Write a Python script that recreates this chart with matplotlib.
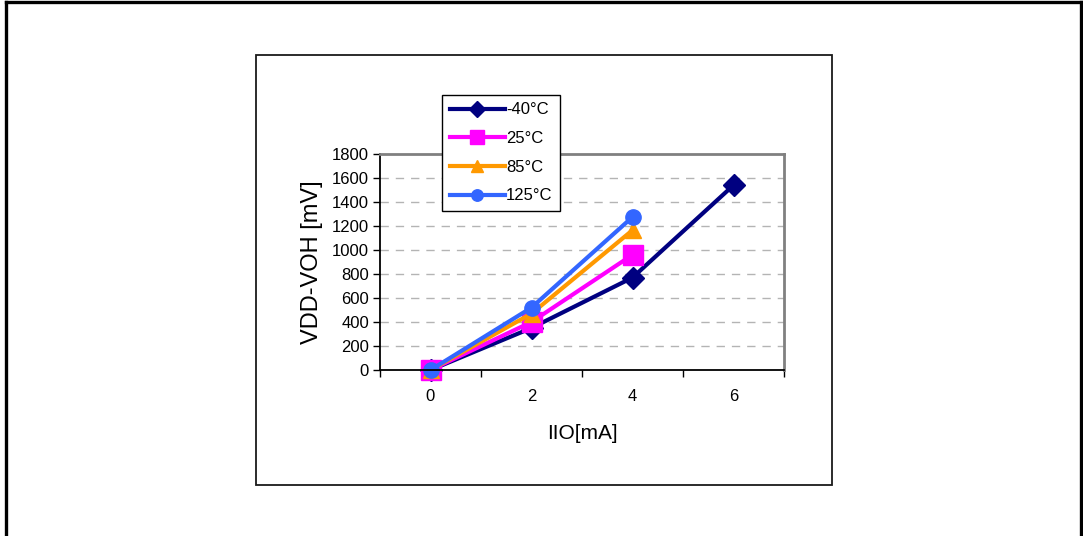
import matplotlib
matplotlib.use("Agg")
import matplotlib.pyplot as plt
from matplotlib.lines import Line2D
from matplotlib.patches import Rectangle

plt.rcParams['font.family'] = ['Liberation Sans', 'DejaVu Sans']

categories = ["0", "2", "4", "6"]
series_labels = ["-40°C", "25°C", "85°C", "125°C"]
vals_m40 = [0, 350, 770, 1540]
vals_25 = [0, 400, 960]
vals_85 = [0, 470, 1165]
vals_125 = [0, 520, 1275]
series_values = [vals_m40, vals_25, vals_85, vals_125]
colors = ["#000080", "#FF00FF", "#FF9900", "#3366FF"]
markers = ["D", "s", "^", "o"]
msizes = [11, 14, 12, 11]
yticks = list(range(0, 1801, 200))

W, H = 1083, 536
fig = plt.figure(figsize=(W / 100, H / 100), dpi=100)

def fx(px):
    return px / W

def fy(py):
    return 1 - py / H

# outer border (bottom runs off the image)
for xs, ys in [((6, 6), (2, 540)), ((6, 1081), (2, 2)), ((1081, 1081), (2, 540))]:
    fig.add_artist(Line2D([fx(x) for x in xs], [fy(y) for y in ys], color="black",
                          lw=2.4, transform=fig.transFigure, solid_capstyle="projecting"))

# inner chart box
fig.add_artist(Rectangle((fx(256), fy(485)), fx(832) - fx(256), fy(55) - fy(485),
                         transform=fig.transFigure, fill=False, edgecolor="#1a1a1a", lw=1.3))

ax = fig.add_axes([fx(380), fy(370), fx(784) - fx(380), fy(154) - fy(370)])
ax.set_facecolor("white")

for vals, lab, c, m, ms in zip(series_values, series_labels, colors, markers, msizes):
    xs = list(range(len(vals)))
    ax.plot(xs, vals, color=c, lw=3, marker=m, markersize=ms, markeredgecolor=c,
            markerfacecolor=c, label=lab, clip_on=False)

ax.set_xlim(-0.5, len(categories) - 0.5)
ax.set_ylim(0, 1800)
ax.set_yticks(yticks)
ax.set_xticks(range(len(categories)))
ax.set_xticklabels(categories)
ax.set_xticks([i - 0.5 for i in range(len(categories) + 1)], minor=True)
ax.tick_params(axis="x", which="major", length=0, pad=14, labelsize=12)
ax.tick_params(axis="x", which="minor", length=5, width=1, direction="out", color="black")
ax.tick_params(axis="y", length=5, width=1, direction="out", labelsize=12, pad=3)

for yv in yticks[1:-1]:
    ax.axhline(yv, color="#b4b4b4", lw=1, dashes=(6, 5), zorder=0)

ax.spines["left"].set_color("black")
ax.spines["bottom"].set_color("black")
ax.spines["left"].set_linewidth(1.3)
ax.spines["bottom"].set_linewidth(1.3)
ax.spines["top"].set_color("#808080")
ax.spines["right"].set_color("#808080")
ax.spines["top"].set_linewidth(2)
ax.spines["right"].set_linewidth(2)

ax.set_xlabel("IIO[mA]", fontsize=15, labelpad=14)
ax.set_ylabel("VDD-VOH [mV]", fontsize=17, labelpad=6)

handles, labels = ax.get_legend_handles_labels()
leg = fig.legend(handles, labels, loc="upper left",
                 bbox_to_anchor=(fx(442), fy(95)), borderaxespad=0,
                 fontsize=12, handlelength=3.3, handletextpad=0.1,
                 labelspacing=0.82, borderpad=0.45, fancybox=False,
                 markerscale=0.75,
                 edgecolor="black", framealpha=1)
leg.get_frame().set_linewidth(1)

fig.savefig("out.png", dpi=100)
